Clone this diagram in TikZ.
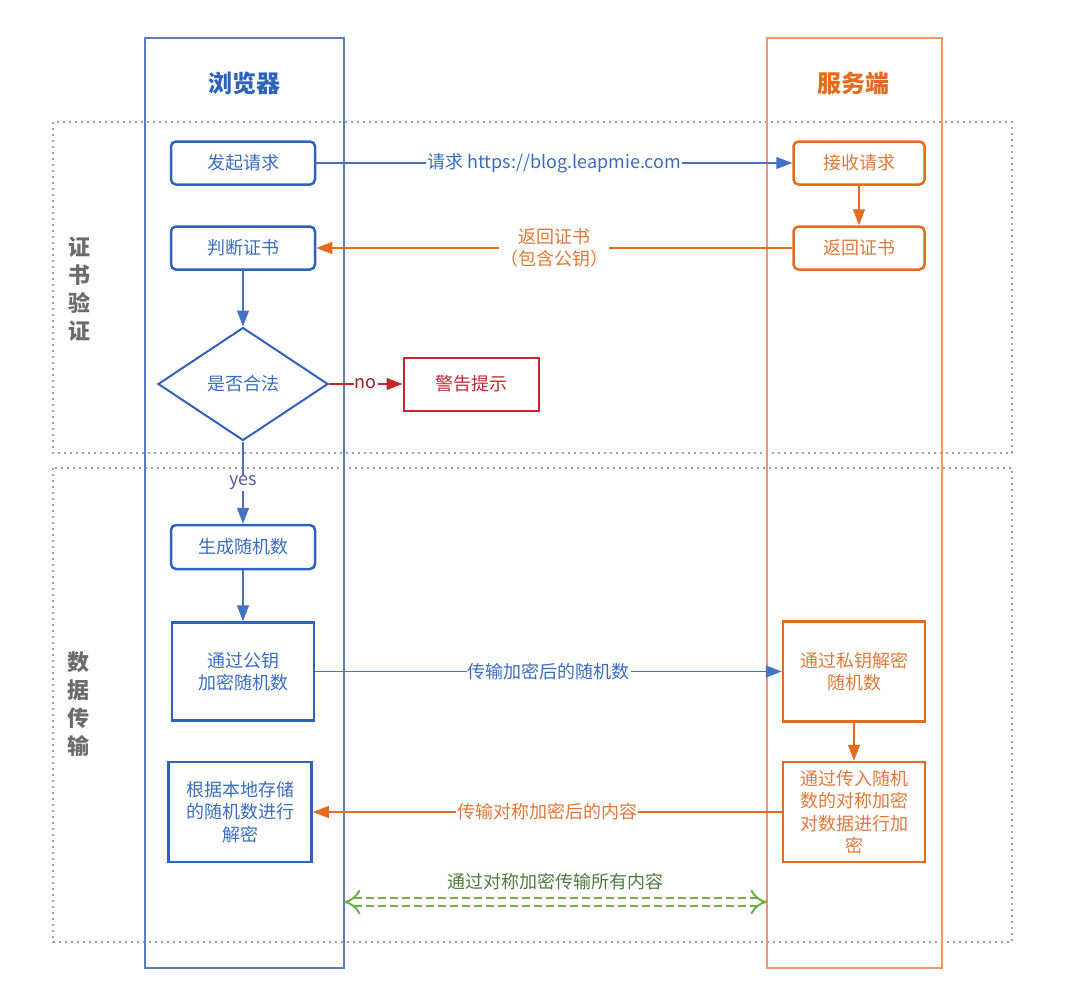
\documentclass[tikz,border=0pt]{standalone}
\usepackage{fontspec}
\setmainfont{Noto Sans CJK SC}
\usetikzlibrary{arrows.meta, shapes.geometric, positioning}
\definecolor{bblue}{HTML}{2E63BD}
\definecolor{btext}{HTML}{3A6DC0}
\definecolor{blane}{HTML}{5B7DC6}
\definecolor{sorange}{HTML}{E36C1F}
\definecolor{stext}{HTML}{E0783A}
\definecolor{slane}{HTML}{E9976F}
\definecolor{wred}{HTML}{C1272D}
\definecolor{sgreen}{HTML}{6CAF4B}
\definecolor{gtext}{HTML}{4F7A40}
\tikzset{>={Triangle[length=16pt,width=12pt]}, % filled arrow heads
txt/.style={font=\fontsize{18}{22.5}\selectfont}, % text in the boxes
bbox/.style={draw=bblue, line width=2.5pt, text=btext, txt, align=center, inner sep=2pt}, % browser steps
sbox/.style={draw=sorange, line width=2.5pt, text=stext, txt, align=center, inner sep=2pt}, % server steps
rbox/.style={rounded corners=5pt, minimum height=43pt}, % the small rounded steps
lane/.style={line width=1.2pt},
sect/.style={draw=gray!75, line width=2pt, dash pattern=on 1.6pt off 4.4pt}, % dotted frames
side/.style={text=gray!85!black, font=\fontsize{22}{28}\selectfont\bfseries, align=center},
heading/.style={font=\fontsize{24}{28}\selectfont\bfseries},
bline/.style={draw=bblue!90, line width=1.3pt},
oline/.style={draw=sorange, line width=1.3pt},
lbl/.style={fill=white, inner sep=1pt, txt},
}
\begin{document}
\begin{tikzpicture}[x=1pt, y=-1pt]
    \useasboundingbox (0,0) rectangle (1080,993);
    % the two stages
    \draw[sect] (53,122) rectangle (1012,453);
    \draw[sect] (53,468) rectangle (1012,942);
    \node[side] (certlbl) at (79,289) {证\\书\\验\\证};
    \node[side] (datalbl) at (78,704) {数\\据\\传\\输};
    % lanes
    \draw[lane, draw=blane] (145,38) rectangle (344,968);
    \draw[lane, draw=slane] (767,38) rectangle (942,968);
    \node[heading, text=bblue] (browser) at (244,83) {浏览器};
    \node[heading, text=sorange] (server) at (853,83) {服务端};

    % browser side
    \node[bbox, rbox, minimum width=144pt] (ask) at (243,163) {发起请求};
    \node[bbox, rbox, minimum width=144pt] (check) at (243,248) {判断证书};
    \node[bbox, line width=2pt, diamond, aspect=1.5, minimum width=170pt, minimum height=113pt] (valid) at (243,384) {是否合法};
    \node[txt, draw=wred, line width=2pt, text=wred, minimum width=135pt, minimum height=53pt] (warn) at (471,384) {警告提示};
    \node[bbox, rbox, minimum width=144pt, minimum height=44pt] (rand) at (243,547) {生成随机数};
    \node[bbox, minimum width=142pt, minimum height=98pt] (enc) at (243,671.5) {通过公钥\\加密随机数};
    \node[bbox, minimum width=143pt, minimum height=100pt] (dec) at (240,812) {根据本地存储\\的随机数进行\\解密};

    % server side
    \node[sbox, rbox, minimum width=131pt] (recv) at (859,163) {接收请求};
    \node[sbox, rbox, minimum width=131pt] (back) at (859,248) {返回证书};
    \node[sbox, minimum width=142pt, minimum height=100pt] (pdec) at (854,671.5) {通过私钥解密\\随机数};
    \node[sbox, minimum width=142pt, minimum height=100pt] (senc) at (854,812) {通过传入随机\\数的对称加密\\对数据进行加\\密};

    \coordinate (gl) at (344,902);
    \coordinate (gr) at (767,902);

    \draw[bline, ->] (ask) -- node[lbl, text=btext] {请求 https://blog.leapmie.com} (recv);
    \draw[oline, ->] (recv) -- (back);
    \draw[oline, ->] (back) -- node[lbl, text=stext, align=center] {返回证书\\（包含公钥）} (check);
    \draw[bline, ->] (check) -- (valid);
    \draw[draw=wred, line width=1.3pt, ->] (valid) -- node[lbl, text=wred!80!black] {no} (warn);
    \draw[bline, ->] (valid) -- node[lbl, text=gray!70!blue] {yes} (rand);
    \draw[bline, ->] (rand) -- (enc);
    \draw[bline, ->] (enc) -- node[lbl, text=btext] {传输加密后的随机数} (pdec);
    \draw[oline, ->] (pdec) -- (senc);
    \draw[oline, ->] (senc) -- node[lbl, text=stext] {传输对称加密后的内容} (dec);
    \draw[draw=sgreen, line width=2pt, double=white, double distance=6.5pt, dash pattern=on 8pt off 4pt, {Implies[scale=1.3]}-{Implies[scale=1.3]}] (gl) -- node[above=8pt, txt, text=gtext] {通过对称加密传输所有内容} (gr);
\end{tikzpicture}
\end{document}
